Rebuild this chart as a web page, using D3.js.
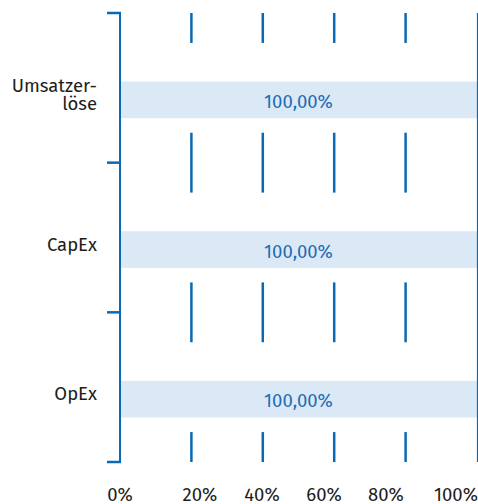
<!DOCTYPE html>
<html><head><meta charset="utf-8">
<script src="https://cdn.jsdelivr.net/npm/d3@7"></script>
<style>body{margin:0;background:#fff}svg{display:block}</style>
</head><body><script>
const categories = ["Umsatzerlöse", "CapEx", "OpEx"];
const categoryLines = [["Umsatzer-", "löse"], ["CapEx"], ["OpEx"]];
const values = [100, 100, 100];
const valueLabels = ["100,00%", "100,00%", "100,00%"];
const tickValues = [0, 20, 40, 60, 80, 100];
const tickLabels = ["0%", "20%", "40%", "60%", "80%", "100%"];

const W = 478, H = 504;
const dark = "#0a69b4", light = "#dbe9f7", valColor = "#1f6db3", txt = "#1d1d1b";
const font = "'Fira Sans','Open Sans','Noto Sans',sans-serif";
const fs = 18.5;

const svg = d3.select("body").append("svg").attr("width", W).attr("height", H);
const x = d3.scaleLinear().domain([0, 100]).range([120, 477]);
const xl = d3.scaleLinear().domain([0, 20, 80, 100]).range([120, 200, 386, 456]);
const y = d3.scaleBand().domain(categories).range([13, 462]);
const bw = y.bandwidth();

// gridlines (20..80)
svg.append("g").selectAll("line").data(tickValues.filter(v => v > 0 && v < 100)).join("line")
  .attr("x1", d => x(d)).attr("x2", d => x(d)).attr("y1", 13).attr("y2", 462)
  .attr("stroke", dark).attr("stroke-width", 2.5);

// white region per category
svg.append("g").selectAll("rect").data(categories).join("rect")
  .attr("x", x(0)).attr("width", x(100) - x(0) - 0.5)
  .attr("y", d => y(d) + bw * 0.2).attr("height", bw * 0.6)
  .attr("fill", "#fff");

// bars
const barY = d => y(d) + bw * 0.458, barH = bw * 0.245;
svg.append("g").selectAll("rect").data(categories).join("rect")
  .attr("x", x(0)).attr("width", (d, i) => x(values[i]) - x(0))
  .attr("y", barY).attr("height", barH).attr("fill", light);

// value labels
svg.append("g").selectAll("text").data(categories).join("text")
  .attr("x", (d, i) => (x(0) + x(values[i])) / 2)
  .attr("y", d => barY(d) + barH / 2 + 8)
  .attr("text-anchor", "middle").attr("font-family", font).attr("font-size", fs)
  .attr("fill", valColor).text((d, i) => valueLabels[i]);

// right border line
svg.append("line").attr("x1", x(100) + 0.5).attr("x2", x(100) + 0.5).attr("y1", 13).attr("y2", 462)
  .attr("stroke", dark).attr("stroke-width", 1.2);

// left axis
const bounds = categories.map(c => y(c)).concat([y(categories[categories.length - 1]) + bw]);
svg.append("line").attr("x1", x(0)).attr("x2", x(0)).attr("y1", 12).attr("y2", 463)
  .attr("stroke", dark).attr("stroke-width", 2);
svg.append("g").selectAll("line").data(bounds).join("line")
  .attr("x1", x(0) - 13).attr("x2", x(0) + 1).attr("y1", d => d).attr("y2", d => d)
  .attr("stroke", dark).attr("stroke-width", 2.5);

// category labels
const cl = svg.append("g").selectAll("text").data(categories).join("text")
  .attr("text-anchor", "end").attr("font-family", font).attr("font-size", fs).attr("fill", txt);
cl.each(function (d, i) {
  const lines = categoryLines[i];
  const c = barY(d) + barH / 2;
  const lh = 18;
  const first = c + 1 - (lines.length - 1) * lh / 2;
  d3.select(this).selectAll("tspan").data(lines).join("tspan")
    .attr("x", 97).attr("y", (l, j) => first + j * lh).text(l => l);
});

// bottom tick labels
svg.append("g").selectAll("text").data(tickValues).join("text")
  .attr("x", d => xl(d)).attr("y", 501).attr("text-anchor", "middle")
  .attr("font-family", font).attr("font-size", fs).attr("fill", txt)
  .text((d, i) => tickLabels[i]);
</script></body></html>
